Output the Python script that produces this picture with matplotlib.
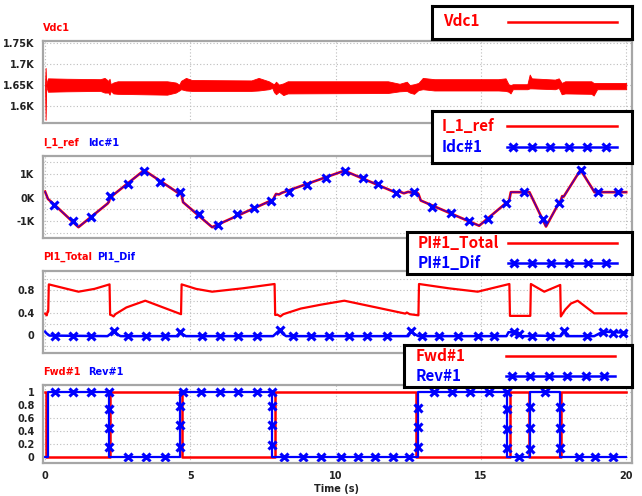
import numpy as np
import matplotlib
matplotlib.use("Agg")
import matplotlib.pyplot as plt

# ---------------- data ----------------
# Vdc1 ripple band (upper / lower envelope, volts)
vdc_t = [0.0, 0.02, 0.04, 0.1, 0.75, 1.9, 2.05, 2.18, 2.22, 2.26, 2.35, 2.5, 4.2, 4.5, 4.62,
         4.68, 4.85, 5.05, 7.1, 7.35, 7.7, 7.82, 7.88, 7.95, 8.05, 8.2, 8.35, 11.8, 12.2, 12.45,
         12.55, 12.7, 12.85, 13.0, 13.4, 15.6, 15.85, 15.95, 16.02, 16.1, 16.6, 16.68, 16.75,
         17.55, 17.68, 17.78, 17.9, 18.8, 18.88, 19.0, 20.0]
vdc_hi = [1650, 1691, 1652, 1666, 1665, 1664, 1667, 1660, 1665, 1652, 1656, 1659, 1659, 1656, 1651,
          1660, 1667, 1662, 1661, 1667, 1659, 1654, 1652, 1658, 1651, 1654, 1659, 1659, 1653, 1658,
          1650, 1652, 1655, 1667, 1664, 1664, 1666, 1652, 1650, 1652, 1652, 1675, 1666,
          1663, 1666, 1655, 1659, 1659, 1655, 1655, 1655]
vdc_lo = [1650, 1567, 1648, 1634, 1635, 1636, 1632, 1632, 1627, 1636, 1630, 1629, 1627, 1632, 1637,
          1640, 1637, 1636, 1636, 1637, 1640, 1643, 1633, 1628, 1634, 1626, 1630, 1631, 1635, 1636,
          1632, 1629, 1638, 1640, 1637, 1637, 1636, 1634, 1630, 1640, 1640, 1642, 1642,
          1640, 1643, 1628, 1630, 1629, 1625, 1640, 1640]

# I_1_ref (A); Idc#1 tracks it
iref_t = [0.0, 0.05, 0.1, 0.3, 1.15, 2.15, 2.2, 2.25, 2.3, 2.35, 3.41, 4.6, 4.65, 4.7, 4.75, 5.75,
          7.85, 7.9, 7.95, 8.05, 8.15, 10.3, 12.07, 12.2, 12.35, 12.5, 12.65, 12.75, 12.85, 12.93,
          14.94, 15.86, 15.97, 16.03, 16.67, 17.24, 17.68, 17.74, 17.8, 17.85, 18.43, 18.91, 20.0]
iref_v = [250, 100, -60, -280, -1262, -260, -180, 60, 40, 110, 1160, 180, 230, 120, -199, -1262,
          -90, 40, 150, 130, 200, 1140, 210, 250, 180, 240, 200, 260, 150, -128,
          -1200, -241, -150, 227, 227, -1234, -241, -150, 60, 40, 1177, 227, 227]
idc_t = iref_t
idc_v = iref_v
idc_mark_t = [0.31, 0.95, 1.57, 2.22, 2.84, 3.41, 3.94, 4.66, 5.29, 5.95, 6.59, 7.18, 7.78, 8.39,
              9.02, 9.68, 10.31, 10.94, 11.47, 12.09, 12.7, 13.33, 13.97, 14.6, 15.23, 15.86,
              16.49, 17.13, 17.68, 18.43, 19.02, 19.71]
idc_mark_v = [-312, -1007, -837, 85, 582, 1149, 681, 227, -723, -1149, -723, -454, -156, 255,
              511, 823, 1121, 837, 582, 199, 255, -411, -652, -1007, -922, -241,
              227, -908, -241, 1177, 227, 227]

# PI1 total output and differential term
pit_t = [0.0, 0.06, 0.09, 0.11, 0.13, 0.6, 1.15, 1.7, 2.22, 2.24, 2.3, 2.36, 2.42, 2.8, 3.45, 4.68,
         4.7, 5.2, 5.75, 6.8, 7.9, 7.92, 8.0, 8.1, 8.2, 8.8, 9.5, 10.3, 11.4, 12.4, 12.45, 12.55,
         12.85, 12.87, 13.9, 14.89, 15.98, 16.0, 16.7, 16.72, 17.18, 17.73, 17.75, 17.9, 18.1,
         18.33, 18.9, 20.0]
pit_v = [0.38, 0.35, 0.42, 0.42, 0.9, 0.84, 0.77, 0.82, 0.9, 0.36, 0.35, 0.33, 0.37, 0.49, 0.61, 0.37,
         0.9, 0.82, 0.77, 0.83, 0.907, 0.356, 0.36, 0.33, 0.37, 0.47, 0.54, 0.61, 0.49, 0.38, 0.40, 0.37,
         0.35, 0.907, 0.83, 0.77, 0.907, 0.34, 0.34, 0.907, 0.77, 0.89, 0.33, 0.45, 0.56,
         0.61, 0.385, 0.385]
pid_t = [0.0, 0.05, 0.15, 2.15, 2.25, 2.36, 2.45, 2.6, 4.58, 4.64, 4.72, 4.85, 7.85, 7.95, 8.08,
         8.18, 8.3, 12.5, 12.59, 12.7, 12.85, 15.88, 15.95, 16.15, 16.25, 16.35, 16.7, 16.8,
         17.75, 17.85, 17.95, 18.9, 19.05, 19.2, 20.0]
pid_v = [0.06, 0.03, -0.01, -0.02, 0.02, 0.08, 0.02, -0.02, -0.02, 0.06, 0.02, -0.02, -0.02, 0.03, 0.09,
         0.02, -0.02, -0.02, 0.08, 0.02, -0.02, -0.02, 0.05, 0.05, 0.02, -0.02, -0.02, -0.01,
         -0.02, 0.08, -0.02, -0.02, 0.02, 0.06, 0.04]
pid_mark_t = [0.34, 0.95, 1.57, 2.36, 2.85, 3.47, 4.14, 4.63, 5.4, 6.01, 6.64, 7.28, 8.08, 8.54,
              9.16, 9.77, 10.46, 11.09, 11.78, 12.59, 12.99, 13.56, 14.2, 14.89, 15.46, 16.15,
              16.32, 16.75, 17.39, 17.85, 18.64, 19.2, 19.54, 19.89]
pid_mark_v = [-0.02, -0.02, -0.02, 0.08, -0.02, -0.02, -0.02, 0.06, -0.02, -0.02, -0.02, -0.02, 0.09,
              -0.02, -0.02, -0.02, -0.02, -0.02, -0.02, 0.08, -0.02, -0.02, -0.02, -0.02, -0.02,
              0.05, 0.02, -0.02, -0.02, 0.08, -0.02, 0.06, 0.04, 0.04]

# Forward / reverse gating flags
fwd_t = [0.0, 0.04, 2.24, 4.71, 7.92, 12.78, 16.01, 16.64, 17.76, 20.0]
fwd_v = [1, 0, 1, 0, 1, 0, 1, 0, 1, 1]
rev_t = [0.0, 0.1, 2.2, 4.66, 7.82, 12.85, 15.9, 16.7, 17.72, 20.0]
rev_v = [0, 1, 0, 1, 0, 1, 0, 1, 0, 0]
rev_mark_t = [0.34, 0.95, 1.57, 2.2, 2.2, 2.2, 2.2, 2.85, 3.47, 4.14, 4.66, 4.66, 4.66, 4.75,
              5.38, 6.01, 6.64, 7.28, 7.82, 7.82, 7.82, 7.82, 8.24, 8.89, 9.5, 10.17, 10.78,
              11.36, 11.99, 12.53, 12.85, 12.85, 12.85, 13.39, 14.0, 14.63, 15.29, 15.9, 15.9,
              15.9, 15.9, 16.32, 16.7, 16.7, 16.7, 17.21, 17.72, 17.72, 17.72, 18.39, 18.91, 19.54]
rev_mark_v = [1, 1, 1, 1, 0.74, 0.45, 0.15, 0, 0, 0, 0.15, 0.49, 0.78, 1,
              1, 1, 1, 1, 1, 0.78, 0.49, 0.18, 0, 0, 0, 0, 0,
              0, 0, 0, 0.15, 0.46, 0.76, 1, 1, 1, 1, 1, 0.74,
              0.43, 0.14, 0, 0.13, 0.45, 0.77, 1, 0.77, 0.45, 0.14, 0, 0, 0]

x_ticks = [0, 5, 10, 15, 20]
x_labels = ["0", "5", "10", "15", "20"]

# ---------------- figure ----------------
W, H = 642, 496
fig = plt.figure(figsize=(W / 100, H / 100), dpi=100)
fig.patch.set_facecolor("white")

RED = "#ff0000"
BLUE = "#0000ff"
SMALL_FONT = ["Liberation Sans Narrow", "DejaVu Sans"]
BOX_FONT = ["Noto Sans CJK KR", "DejaVu Sans"]
LEFT, RIGHT = 43, 632


def fx(x):
    return x / W


def fy(y):
    return 1 - y / H


def panel(top, bottom, ylim, grid_vals, labels, show_x=False):
    ax = fig.add_axes([fx(LEFT), fy(bottom), (RIGHT - LEFT) / W, (bottom - top) / H])
    ax.set_xlim(-0.07, 20.2)
    ax.set_ylim(*ylim)
    ax.set_yticks(grid_vals)
    ax.set_yticklabels(labels)
    ax.set_xticks(x_ticks)
    ax.set_xticklabels(x_labels if show_x else [])
    ax.tick_params(length=0, pad=6, labelsize=7, labelcolor="#222222")
    for lab in ax.get_yticklabels() + ax.get_xticklabels():
        lab.set_family(SMALL_FONT)
        lab.set_fontweight("bold")
    ax.grid(True, ls=(0, (1, 2)), color="#bdbdbd", lw=0.8)
    for s in ax.spines.values():
        s.set_color("#a6a6a6")
        s.set_linewidth(1.6)
    ax.set_axisbelow(True)
    return ax


def caption(x, y, text, color):
    fig.text(fx(x), fy(y), text, color=color, fontsize=7, family=SMALL_FONT,
             fontweight="bold", va="center", ha="left")


# Panel 1: Vdc1
ax1 = panel(41, 123, (1559.5, 1755), [1600, 1650, 1700, 1750],
            ["1.6K", "1.65K", "1.7K", "1.75K"])
ax1.fill_between(vdc_t, vdc_lo, vdc_hi, color=RED, lw=0.6, edgecolor=RED)
caption(43, 28, "Vdc1", RED)

# Panel 2: I_1_ref / Idc#1
g2 = [-1500, -1000, -500, 0, 500, 1000, 1500]
ax2 = panel(156, 238, (-1723, 1766), g2, ["", "-1K", "", "0K", "", "1K", ""])
ax2.plot(iref_t, iref_v, color=RED, lw=1.9)
ax2.plot(idc_t, idc_v, color=BLUE, lw=0.9, alpha=0.75)
ax2.plot(idc_mark_t, idc_mark_v, ls="none", marker="x", ms=6, mew=2.2, color=BLUE)
caption(43, 143, "I_1_ref", RED)
caption(88, 143, "Idc#1", BLUE)

# Panel 3: PI controller terms
g3 = [-0.2, 0, 0.2, 0.4, 0.6, 0.8, 1.0]
ax3 = panel(271, 353, (-0.32, 1.138), g3, ["", "0", "", "0.4", "", "0.8", ""])
ax3.plot(pit_t, pit_v, color=RED, lw=1.6)
ax3.plot(pid_t, pid_v, color=BLUE, lw=1.8)
ax3.plot(pid_mark_t, pid_mark_v, ls="none", marker="x", ms=6, mew=2.2, color=BLUE)
caption(43, 257, "PI1_Total", RED)
caption(97, 257, "PI1_Dif", BLUE)

# Panel 4: direction flags
g4 = [0, 0.2, 0.4, 0.6, 0.8, 1.0]
ax4 = panel(385, 463, (-0.092, 1.108), g4, ["0", "0.2", "0.4", "0.6", "0.8", "1"], show_x=True)
ax4.plot(fwd_t, fwd_v, color=RED, lw=1.8, drawstyle="steps-post")
ax4.plot(rev_t, rev_v, color=BLUE, lw=1.6, drawstyle="steps-post")
ax4.plot(rev_mark_t, rev_mark_v, ls="none", marker="x", ms=6, mew=2.2, color=BLUE)
caption(43, 372, "Fwd#1", RED)
caption(88, 372, "Rev#1", BLUE)
fig.text(fx(337), fy(489), "Time (s)", fontsize=7, family=SMALL_FONT, fontweight="bold",
         color="#222222", ha="center", va="center")


# Legend boxes
def legend_box(x0, y0, x1, y1, rows, text_x, line_x0, line_x1):
    bx = fig.add_axes([fx(x0), fy(y1), (x1 - x0) / W, (y1 - y0) / H])
    bx.set_xlim(x0, x1)
    bx.set_ylim(y1, y0)
    bx.set_xticks([])
    bx.set_yticks([])
    bx.set_facecolor("white")
    for s in bx.spines.values():
        s.set_color("black")
        s.set_linewidth(2.2)
    for label, color, y, marked in rows:
        bx.text(text_x, y, label, color=color, fontsize=11, family=BOX_FONT,
                fontweight="bold", va="center", ha="left")
        bx.plot([line_x0, line_x1], [y, y], color=color, lw=1.8)
        if marked:
            mx = np.linspace(line_x0 + 6, line_x1 - 11, 6)
            bx.plot(mx, [y] * 6, ls="none", marker="x", ms=6, mew=2.2, color=color)


legend_box(432, 6, 632, 39, [("Vdc1", RED, 21.5, False)], 443, 508, 617)
legend_box(432, 111, 632, 163, [("I_1_ref", RED, 126, False), ("Idc#1", BLUE, 147, True)],
           442, 507, 617)
legend_box(407, 232, 632, 274, [("PI#1_Total", RED, 243, False), ("PI#1_Dif", BLUE, 263.5, True)],
           418, 508, 617)
legend_box(404, 345, 632, 387, [("Fwd#1", RED, 356, False), ("Rev#1", BLUE, 376, True)],
           416, 506, 615)

fig.savefig("out.png", dpi=100, facecolor="white")
